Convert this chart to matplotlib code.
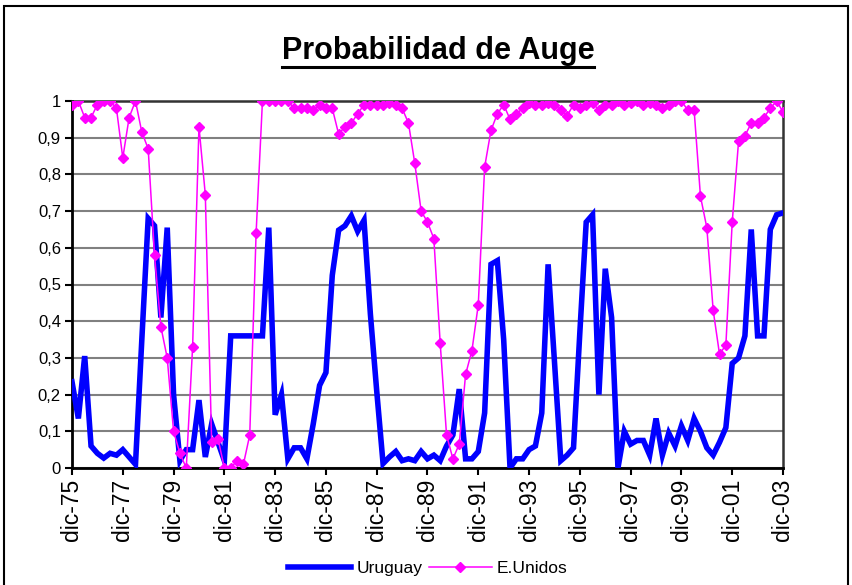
import numpy as np
import matplotlib.pyplot as plt
from matplotlib.lines import Line2D
from matplotlib.patches import Rectangle
from matplotlib.ticker import FixedLocator, FuncFormatter

# quarterly series, dic-75 .. dic-03
uruguay = [0.235, 0.135, 0.305, 0.06, 0.04, 0.027, 0.04, 0.035, 0.05, 0.03,
           0.01, 0.35, 0.68, 0.66, 0.41, 0.655, 0.2, 0.02, 0.05, 0.05,
           0.185, 0.03, 0.12, 0.07, 0.02, 0.36, 0.36, 0.36, 0.36, 0.36,
           0.36, 0.655, 0.145, 0.2, 0.025, 0.055, 0.055, 0.025, 0.12, 0.225,
           0.26, 0.525, 0.648, 0.66, 0.687, 0.645, 0.675, 0.42, 0.21, 0.012,
           0.03, 0.045, 0.02, 0.025, 0.02, 0.045, 0.025, 0.035, 0.02, 0.06,
           0.09, 0.215, 0.025, 0.025, 0.045, 0.15, 0.555, 0.565, 0.35, 0.0,
           0.025, 0.025, 0.05, 0.06, 0.15, 0.555, 0.29, 0.02, 0.035, 0.055,
           0.37, 0.67, 0.69, 0.2, 0.543, 0.41, 0.0, 0.1, 0.065, 0.075,
           0.075, 0.035, 0.135, 0.035, 0.095, 0.06, 0.115, 0.075, 0.135, 0.1,
           0.055, 0.035, 0.07, 0.11, 0.285, 0.30, 0.36, 0.65, 0.36, 0.36,
           0.65, 0.69, 0.695]

eeuu = [0.99, 1.0, 0.955, 0.955, 0.99, 1.0, 1.0, 0.98, 0.845, 0.955,
        1.0, 0.915, 0.87, 0.58, 0.385, 0.30, 0.10, 0.04, 0.0, 0.33,
        0.93, 0.745, 0.07, 0.08, 0.0, 0.0, 0.02, 0.01, 0.09, 0.64,
        1.0, 1.0, 1.0, 1.0, 1.0, 0.98, 0.98, 0.98, 0.975, 0.99,
        0.98, 0.98, 0.91, 0.93, 0.94, 0.965, 0.99, 0.99, 0.99, 0.99,
        0.995, 0.99, 0.98, 0.94, 0.83, 0.70, 0.67, 0.625, 0.34, 0.09,
        0.025, 0.065, 0.255, 0.32, 0.445, 0.82, 0.92, 0.965, 0.99, 0.95,
        0.965, 0.98, 0.995, 0.99, 0.99, 0.995, 0.99, 0.975, 0.96, 0.99,
        0.98, 0.99, 0.995, 0.975, 0.99, 0.99, 1.0, 0.99, 0.995, 1.0,
        0.99, 0.995, 0.99, 0.98, 0.99, 1.0, 1.0, 0.975, 0.975, 0.74,
        0.655, 0.43, 0.31, 0.335, 0.67, 0.89, 0.905, 0.94, 0.94, 0.955,
        0.98, 1.0, 0.97]

xlabels = ["dic-75", "dic-77", "dic-79", "dic-81", "dic-83", "dic-85", "dic-87",
           "dic-89", "dic-91", "dic-93", "dic-95", "dic-97", "dic-99", "dic-01",
           "dic-03"]

plt.rcParams['font.family'] = ['Liberation Sans', 'DejaVu Sans']

fig = plt.figure(figsize=(8.53, 5.85), dpi=100)
ax = fig.add_axes([72/853, 1 - 468/585, (783 - 72)/853, (468 - 101)/585])

x = np.arange(len(uruguay))
ax.plot(x, uruguay, color='#0000FF', lw=4, solid_joinstyle='miter', label='Uruguay', zorder=3)
ax.plot(x, eeuu, color='#FF00FF', lw=1.1, marker='D', ms=5.2, mec='#FF00FF',
        label='E.Unidos', zorder=4)

ax.set_xlim(0, len(uruguay) - 1)
ax.set_ylim(0, 1)
ax.xaxis.set_major_locator(FixedLocator(np.arange(0, len(uruguay), 8)))
ax.set_xticklabels(xlabels, rotation=90, fontsize=16.5)
ax.set_yticks(np.arange(0, 1.01, 0.1))
ax.yaxis.set_major_formatter(FuncFormatter(lambda v, p: ('%g' % round(v, 1)).replace('.', ',')))
ax.tick_params(axis='y', labelsize=12, length=5, width=1.5, pad=3)
ax.tick_params(axis='x', length=5, width=1.5, pad=3)
ax.grid(axis='y', color='#808080', lw=1.5)
ax.set_axisbelow(True)
for s in ['left', 'bottom']:
    ax.spines[s].set_linewidth(2)
    ax.spines[s].set_color('black')
for s in ['top', 'right']:
    ax.spines[s].set_linewidth(1.8)
    ax.spines[s].set_color('#333333')

fig.legend(loc='center', bbox_to_anchor=(428/853, 1 - 568/585), ncol=2, frameon=False,
           fontsize=12.5, handlelength=3.6, columnspacing=0.4, handletextpad=0.3)

t = fig.text(438/853, 1 - 51/585, 'Probabilidad de Auge', ha='center', va='center',
             fontsize=22, fontweight='bold')

# underline the title
fig.canvas.draw()
bb = t.get_window_extent(fig.canvas.get_renderer())
inv = fig.transFigure.inverted()
(x0, y0), (x1, _) = inv.transform([(bb.x0, bb.y0 - 1), (bb.x1, bb.y0)])
fig.add_artist(Line2D([x0, x1], [y0, y0], color='black', lw=2.2, transform=fig.transFigure))

fig.add_artist(Rectangle((4/853, -0.02), (848 - 4)/853, 1.02 - 6/585, fill=False,
                         lw=1.5, edgecolor='black', transform=fig.transFigure))

fig.savefig('out.png', dpi=100)
